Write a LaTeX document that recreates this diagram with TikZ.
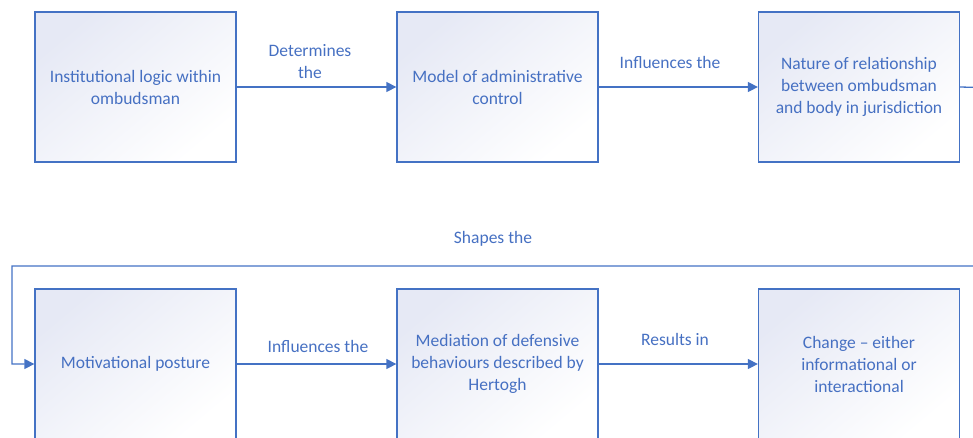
\documentclass[tikz,border=0pt]{standalone}
\usepackage{fontspec}
\setmainfont{Carlito}
\usetikzlibrary{arrows.meta}
\definecolor{edge}{HTML}{4472C4}
\definecolor{ink}{HTML}{4670C2}
\definecolor{tint}{HTML}{E6E9F5}
\begin{document}
\begin{tikzpicture}[x=1pt,y=-1pt,
  stepbox/.style={draw=edge, line width=1.3pt, minimum width=201pt, minimum height=150pt,
    inner sep=0pt, top color=tint, bottom color=white, shading angle=40,
    text=ink, align=center, font=\fontsize{17.5}{22}\selectfont},
  link/.style={draw=edge, line width=1.3pt, -{Triangle[length=10pt,width=10pt]}},
  tag/.style={text=ink, align=center, font=\fontsize{17.5}{22}\selectfont}]
\useasboundingbox (0,0) rectangle (973,437);
% top row
\node[stepbox] (logic) at (135.5,87) {Institutional logic within\\ombudsman};
\node[stepbox] (model) at (497.5,87) {Model of administrative\\control};
\node[stepbox] (nature) at (859,87) {Nature of relationship\\between ombudsman\\and body in jurisdiction};
% bottom row
\node[stepbox] (posture) at (135.5,364) {Motivational posture};
\node[stepbox] (mediation) at (497.5,364) {Mediation of defensive\\behaviours described by\\Hertogh};
\node[stepbox] (change) at (859,364) {Change -- either\\informational or\\interactional};
% connectors
\draw[link] (logic.east) -- (model.west);
\draw[link] (model.east) -- (nature.west);
\draw[link] (posture.east) -- (mediation.west);
\draw[link] (mediation.east) -- (change.west);
\coordinate (outR) at (1000,88);
\coordinate (backR) at (1000,266);
\coordinate (backL) at (12,266);
\coordinate (downL) at (12,364);
\draw[link] (nature.east) -- (outR) -- (backR) -- (backL) -- (downL) -- (posture.west);
% labels
\node[tag] (l1) at (310,62) {Determines\\the};
\node[tag] (l2) at (670,62) {Influences the};
\node[tag] (l3) at (493,239) {Shapes the};
\node[tag] (l4) at (318,346) {Influences the};
\node[tag] (l5) at (675,339) {Results in};
\end{tikzpicture}
\end{document}
